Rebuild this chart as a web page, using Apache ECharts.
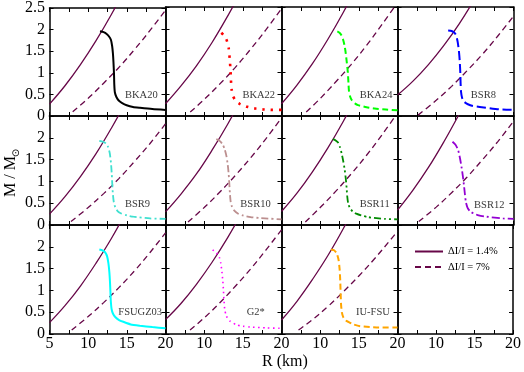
<!DOCTYPE html>
<html><head><meta charset="utf-8">
<script src="https://cdn.jsdelivr.net/npm/echarts@6/dist/echarts.min.js"></script>
<style>html,body{margin:0;padding:0;background:#fff}#c{width:524px;height:372px}</style>
</head><body><div id="c"></div>
<script>
// ---------- data ----------
const panelNames = ['BKA20','BKA22','BKA24','BSR8','BSR9','BSR10','BSR11','BSR12','FSUGZ03','G2*','IU-FSU'];
const xTickValues = [5, 10, 15, 20];
const yTickValues = [0, 0.5, 1, 1.5, 2, 2.5];
const legendNames = ['ΔI/I = 1.4%', 'ΔI/I = 7%'];

// mass-radius curves [R (km), M/Msun]
const mrBKA20 = [[11.53,1.96],[12.0,1.94],[12.39,1.90],[12.7,1.84],[12.95,1.76],[13.1,1.62],[13.2,1.45],[13.27,1.25],[13.34,0.98],[13.38,0.72],[13.45,0.55],[13.65,0.44],[13.95,0.36],[14.4,0.30],[14.98,0.25],[15.8,0.21],[16.7,0.19],[18.3,0.16],[20,0.14]];
const mrBKA22 = [[12.22,1.91],[12.6,1.84],[12.86,1.76],[13.05,1.66],[13.17,1.56],[13.26,1.40],[13.35,1.20],[13.42,1.00],[13.47,0.80],[13.55,0.61],[13.75,0.45],[14.1,0.34],[14.59,0.28],[15.58,0.21],[16.61,0.17],[17.7,0.15],[18.81,0.14],[20,0.14]];
const mrBKA24 = [[12.22,1.94],[12.5,1.91],[12.75,1.85],[12.95,1.76],[13.15,1.62],[13.3,1.45],[13.45,1.22],[13.58,1.00],[13.66,0.75],[13.72,0.58],[13.85,0.46],[14.1,0.36],[14.5,0.29],[14.9,0.25],[16.0,0.20],[17.05,0.17],[18.5,0.15],[20,0.13]];
const mrBSR8 = [[11.55,1.96],[12.0,1.95],[12.41,1.90],[12.62,1.83],[12.78,1.70],[12.93,1.51],[13.04,1.28],[13.12,1.00],[13.16,0.75],[13.22,0.55],[13.35,0.42],[13.6,0.33],[14.1,0.27],[14.78,0.23],[16.5,0.19],[18.23,0.15],[20,0.14]];
const mrBSR9 = [[11.44,1.93],[11.9,1.91],[12.3,1.87],[12.58,1.79],[12.8,1.64],[12.95,1.42],[13.05,1.17],[13.12,0.92],[13.2,0.70],[13.32,0.52],[13.5,0.41],[13.8,0.32],[14.2,0.27],[15.0,0.22],[15.84,0.19],[18.0,0.15],[20,0.14]];
const mrBSR10 = [[11.57,1.97],[12.0,1.93],[12.35,1.86],[12.65,1.74],[12.88,1.58],[13.05,1.38],[13.17,1.17],[13.26,0.93],[13.33,0.72],[13.43,0.53],[13.6,0.42],[13.9,0.33],[14.4,0.26],[15.0,0.22],[16.0,0.18],[17.18,0.16],[20,0.13]];
const mrBSR11 = [[11.66,1.97],[12.0,1.94],[12.31,1.89],[12.55,1.79],[12.78,1.64],[13.0,1.45],[13.17,1.27],[13.32,1.05],[13.42,0.85],[13.5,0.66],[13.62,0.50],[13.82,0.40],[14.2,0.31],[14.67,0.26],[15.3,0.22],[16.2,0.18],[18.34,0.14],[20,0.13]];
const mrBSR12 = [[12.11,1.91],[12.5,1.84],[12.84,1.72],[13.08,1.53],[13.27,1.34],[13.45,1.12],[13.6,0.90],[13.72,0.70],[13.85,0.52],[14.05,0.40],[14.4,0.31],[14.8,0.27],[15.5,0.22],[16.5,0.19],[18.65,0.15],[20,0.14]];
const mrFSUGZ03 = [[11.44,1.94],[11.85,1.92],[12.18,1.88],[12.45,1.78],[12.62,1.62],[12.74,1.42],[12.82,1.20],[12.88,0.95],[12.93,0.75],[13.02,0.58],[13.2,0.47],[13.5,0.39],[14.0,0.32],[14.54,0.28],[15.5,0.22],[16.7,0.19],[18.3,0.16],[20,0.13]];
const mrG2s = [[11.1,1.93],[11.6,1.86],[11.96,1.76],[12.15,1.62],[12.3,1.42],[12.42,1.20],[12.5,0.98],[12.56,0.78],[12.65,0.58],[12.85,0.42],[13.3,0.30],[14.2,0.21],[15.0,0.18],[15.93,0.16],[18.1,0.14],[20,0.13]];
const mrIUFSU = [[11.4,1.94],[11.8,1.92],[12.14,1.85],[12.38,1.70],[12.52,1.48],[12.6,1.20],[12.65,0.92],[12.7,0.68],[12.8,0.50],[13.0,0.38],[13.3,0.31],[13.64,0.28],[14.3,0.22],[15.16,0.18],[17.3,0.15],[20,0.15]];

// crustal moment of inertia constraint lines, dI/I = 1.4 %
const r14BKA20 = [[5,0.275],[7,0.70],[9,1.19],[11,1.74],[13,2.35],[15,3.02]];
const r14BKA22 = [[5,0.28],[7,0.69],[9,1.15],[11,1.68],[13,2.28],[15,2.93]];
const r14BKA24 = [[5,0.28],[7,0.71],[9,1.20],[11,1.76],[13,2.38],[15,3.06]];
const r14BSR8 = [[5,0.48],[7,0.80],[9,1.18],[11,1.62],[13,2.12],[15,2.69]];
const r14BSR9 = [[5,0.25],[7,0.65],[9,1.11],[11,1.63],[13,2.22],[15,2.86]];
const r14BSR10 = [[5,0.30],[7,0.71],[9,1.17],[11,1.71],[13,2.30],[15,2.95]];
const r14BSR11 = [[5,0.31],[7,0.73],[9,1.22],[11,1.77],[13,2.38],[15,3.05]];
const r14BSR12 = [[5,0.34],[7,0.80],[9,1.32],[11,1.91],[13,2.55],[15,3.20]];
const r14FSUGZ03 = [[5,0.26],[7,0.65],[9,1.10],[11,1.62],[13,2.19],[15,2.83]];
const r14G2s = [[5,0.33],[7,0.70],[9,1.14],[11,1.64],[13,2.20],[15,2.82]];
const r14IUFSU = [[5,0.32],[7,0.75],[9,1.25],[11,1.80],[13,2.42],[15,3.10]];

// dI/I = 7 %
const r7BKA20 = [[8.0,0.10],[10,0.41],[12,0.76],[14,1.13],[16,1.54],[18,1.98],[20,2.45]];
const r7BKA22 = [[8.2,0.09],[10,0.38],[12,0.73],[14,1.11],[16,1.53],[18,1.98],[20,2.46]];
const r7BKA24 = [[8.2,0.09],[10,0.40],[12,0.78],[14,1.18],[16,1.62],[18,2.10],[20,2.60]];
const r7BSR8 = [[7.66,0.02],[10,0.36],[12,0.68],[14,1.04],[16,1.42],[18,1.84],[20,2.29]];
const r7BSR9 = [[7.78,0.08],[10,0.40],[12,0.72],[14,1.07],[16,1.46],[18,1.87],[20,2.32]];
const r7BSR10 = [[7.91,0.07],[10,0.40],[12,0.75],[14,1.13],[16,1.54],[18,1.98],[20,2.46]];
const r7BSR11 = [[8.08,0.07],[10,0.40],[12,0.77],[14,1.17],[16,1.60],[18,2.07],[20,2.57]];
const r7BSR12 = [[7.75,0.08],[10,0.41],[12,0.74],[14,1.10],[16,1.50],[18,1.92],[20,2.38]];
const r7FSUGZ03 = [[7.87,0.09],[10,0.40],[12,0.72],[14,1.07],[16,1.45],[18,1.87],[20,2.32]];
const r7G2s = [[8.17,0.09],[10,0.37],[12,0.71],[14,1.09],[16,1.49],[18,1.93],[20,2.39]];
const r7IUFSU = [[7.2,0.09],[9,0.33],[11,0.63],[13,0.97],[15,1.33],[17,1.72],[19,2.14],[20,2.36]];

// ---------- assembly ----------
const mrCurves = [mrBKA20,mrBKA22,mrBKA24,mrBSR8,mrBSR9,mrBSR10,mrBSR11,mrBSR12,mrFSUGZ03,mrG2s,mrIUFSU];
const ref14 = [r14BKA20,r14BKA22,r14BKA24,r14BSR8,r14BSR9,r14BSR10,r14BSR11,r14BSR12,r14FSUGZ03,r14G2s,r14IUFSU];
const ref7 = [r7BKA20,r7BKA22,r7BKA24,r7BSR8,r7BSR9,r7BSR10,r7BSR11,r7BSR12,r7FSUGZ03,r7G2s,r7IUFSU];

const curveStyles = [
  {color:'#000000', type:'solid', width:2},
  {color:'#ff0000', type:[2.5,5.8], width:2.6},
  {color:'#00ff00', type:[6,3.5], width:2},
  {color:'#0000ff', type:[9,4], width:2},
  {color:'#40e0d0', type:[7,3,2,3], width:1.8},
  {color:'#bc8f8f', type:[7,3,2,3], width:1.8},
  {color:'#008b00', type:[7,3,2,3,2,3], width:1.8},
  {color:'#9400d3', type:[8,3,2,3], width:1.8},
  {color:'#00ffff', type:'solid', width:2},
  {color:'#ff00ff', type:[1.5,3.5], width:1.6},
  {color:'#ffa500', type:[6,3.5], width:2}
];
const labelAt = [[14.76,0.48],[14.95,0.47],[15.12,0.47],[14.48,0.47],[14.76,0.47],[14.67,0.47],[15.12,0.47],[14.9,0.46],[13.9,0.49],[15.5,0.49],[14.63,0.49]];

const FONT = 'Liberation Serif';
const MAROON = '#670748';
const L = 49.5, T = 7, W = 116, H = 109;

const grids = [], xAxes = [], yAxes = [], series = [];
for (let i = 0; i < 12; i++) {
  const r = Math.floor(i / 4), c = i % 4;
  grids.push({left: L + c * W, top: T + r * H, width: W, height: H});
  const axLine = {show: true, onZero: false, lineStyle: {color: '#000', width: 1.5}};
  const tick = {show: true, inside: true, length: 4, lineStyle: {color: '#000', width: 1}};
  const xBase = {type: 'value', gridIndex: i, min: 5, max: 20, interval: 2.5,
    axisLine: axLine, axisTick: tick, splitLine: {show: false}};
  xAxes.push(Object.assign({}, xBase, {position: 'bottom', axisLabel: {
    show: r === 2, margin: 2, fontFamily: FONT, fontSize: 16, color: '#000',
    formatter: v => (xTickValues.includes(v) && (c === 0 || v !== 5)) ? String(v) : ''}}));
  xAxes.push(Object.assign({}, xBase, {position: 'top', axisLabel: {show: false}}));
  const yBase = {type: 'value', gridIndex: i, min: 0, max: 2.5, interval: 0.5,
    axisLine: axLine, axisTick: tick, splitLine: {show: false}};
  yAxes.push(Object.assign({}, yBase, {position: 'left', axisLabel: {
    show: c === 0, margin: 4.5, fontFamily: FONT, fontSize: 16, color: '#000',
    formatter: v => (yTickValues.includes(v) && (r === 0 || v < 2.5)) ? String(v) : ''}}));
  yAxes.push(Object.assign({}, yBase, {position: 'right', axisLabel: {show: false}}));
}

for (let p = 0; p < 11; p++) {
  const xi = 2 * p, yi = 2 * p;
  series.push({type: 'line', name: legendNames[0], xAxisIndex: xi, yAxisIndex: yi, data: ref14[p],
    symbol: 'none', smooth: 0.4, clip: true, silent: true,
    lineStyle: {color: MAROON, width: 1.3, type: 'solid'}, itemStyle: {color: MAROON}});
  series.push({type: 'line', name: legendNames[1], xAxisIndex: xi, yAxisIndex: yi, data: ref7[p],
    symbol: 'none', smooth: 0.4, clip: true, silent: true,
    lineStyle: {color: MAROON, width: 1.3, type: [6, 4]}, itemStyle: {color: MAROON}});
  const st = curveStyles[p];
  series.push({type: 'line', name: panelNames[p], xAxisIndex: xi, yAxisIndex: yi, data: mrCurves[p],
    symbol: 'none', smooth: 0.2, clip: true, silent: true, z: 3,
    lineStyle: {color: st.color, width: st.width, type: st.type, cap: 'butt'}});
  series.push({type: 'scatter', name: 'lbl' + p, xAxisIndex: xi, yAxisIndex: yi,
    data: [labelAt[p]], symbolSize: 0.01, silent: true,
    label: {show: true, position: 'right', distance: 0, formatter: () => panelNames[p],
      fontFamily: FONT, fontSize: 10.5, color: '#000'}});
}

const option = {
  animation: false,
  backgroundColor: '#fff',
  grid: grids, xAxis: xAxes, yAxis: yAxes, series: series,
  legend: {
    data: legendNames, orient: 'vertical', left: 414, top: 246, padding: 0,
    itemWidth: 28, itemHeight: 10, itemGap: 4.4, selectedMode: false,
    itemStyle: {opacity: 0, borderWidth: 0},
    textStyle: {fontFamily: FONT, fontSize: 10.5, color: '#000'}
  },
  graphic: [
    {type: 'text', x: 285, y: 362, style: {text: 'R (km)', font: '16px "Liberation Serif"', fill: '#000', align: 'center', verticalAlign: 'middle'}},
    {type: 'text', x: 10.5, y: 176.5, rotation: Math.PI / 2, style: {text: 'M / M', font: '16px "Liberation Serif"', fill: '#000', align: 'center', verticalAlign: 'middle'}},
    {type: 'text', x: 16, y: 153, rotation: Math.PI / 2, style: {text: '⊙', font: '10px "DejaVu Sans"', fill: '#000', align: 'center', verticalAlign: 'middle'}}
  ]
};
const chart = echarts.init(document.getElementById('c'), null, {renderer: 'canvas'});
chart.setOption(option);
</script>
</body></html>
